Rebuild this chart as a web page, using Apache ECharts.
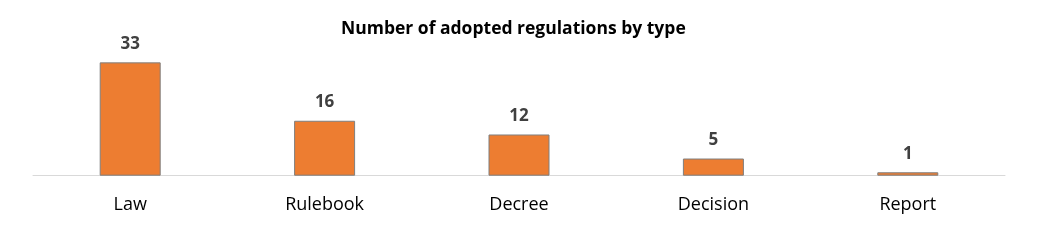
<!DOCTYPE html>
<html><head><meta charset="utf-8">
<script src="https://cdn.jsdelivr.net/npm/echarts@6/dist/echarts.min.js"></script>
<style>html,body{margin:0;padding:0;background:#fff}#c{width:1042px;height:248px}</style>
</head><body><div id="c"></div>
<script>
const categories = ['Law', 'Rulebook', 'Decree', 'Decision', 'Report'];
const values = [33, 16, 12, 5, 1];
const titleText = 'Number of adopted regulations by type';

const chart = echarts.init(document.getElementById('c'), null, {renderer: 'canvas'});
chart.setOption({
  animation: false,
  title: {
    text: titleText, left: 336, top: 15,
    textStyle: {fontFamily: 'Open Sans', fontSize: 17.5, fontWeight: 'bold', color: '#000'}
  },
  grid: {left: 33, right: 37, top: 55.5, bottom: 72.3},
  xAxis: {
    type: 'category', data: categories,
    axisLine: {lineStyle: {color: '#d9d9d9', width: 1}},
    axisTick: {show: false},
    axisLabel: {fontFamily: 'Open Sans', fontSize: 18, color: '#000', margin: 20}
  },
  yAxis: {type: 'value', min: 0, max: 35, show: false, splitLine: {show: false}},
  series: [{
    type: 'bar', data: values, barWidth: 61,
    itemStyle: {color: '#ED7D31', borderColor: '#7f7f7f', borderWidth: 1},
    label: {show: true, position: 'top', distance: 10, fontFamily: 'Open Sans', fontSize: 17, fontWeight: 'bold', color: '#404040'}
  }]
});
</script></body></html>
